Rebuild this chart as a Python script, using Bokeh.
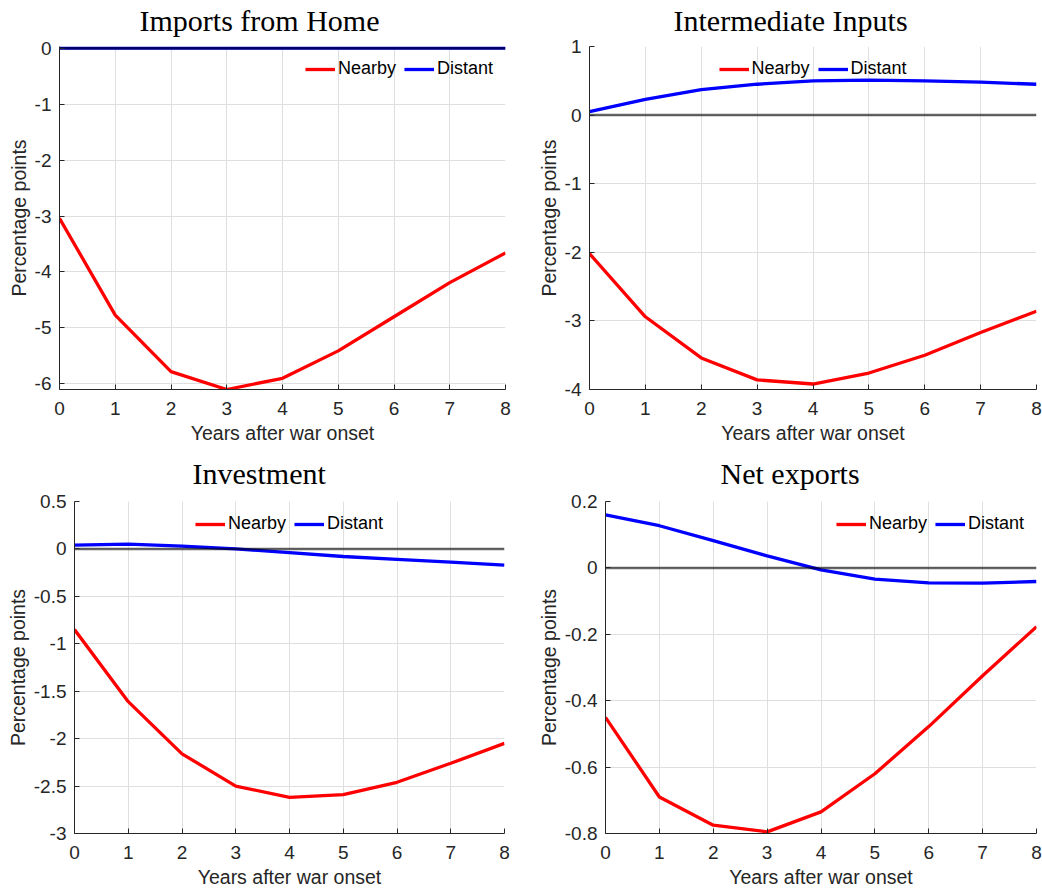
from bokeh.plotting import figure
from bokeh.layouts import column, row
from bokeh.models import Range1d, FixedTicker, CustomJSTickFormatter, Title
from bokeh.embed import file_html
from bokeh.resources import INLINE

# ---------------- data ----------------
years = [0, 1, 2, 3, 4, 5, 6, 7, 8]
x_ticks = [0, 1, 2, 3, 4, 5, 6, 7, 8]

titles = ["Imports from Home", "Intermediate Inputs", "Investment", "Net exports"]
series_names = ["Nearby", "Distant"]

imports_nearby = [-3.04, -4.77, -5.78, -6.10, -5.90, -5.41, -4.80, -4.19, -3.66]
imports_distant = [0.0, 0.0, 0.0, 0.0, 0.0, 0.0, 0.0, 0.0, 0.0]

inter_nearby = [-2.02, -2.94, -3.54, -3.86, -3.92, -3.76, -3.50, -3.17, -2.86]
inter_distant = [0.05, 0.23, 0.37, 0.45, 0.50, 0.51, 0.50, 0.48, 0.45]

inv_nearby = [-0.85, -1.61, -2.16, -2.50, -2.62, -2.59, -2.46, -2.26, -2.05]
inv_distant = [0.04, 0.05, 0.03, 0.00, -0.04, -0.08, -0.11, -0.14, -0.17]

nx_nearby = [-0.45, -0.69, -0.775, -0.795, -0.735, -0.62, -0.478, -0.325, -0.177]
nx_distant = [0.16, 0.127, 0.082, 0.036, -0.006, -0.034, -0.045, -0.046, -0.041]

imports_yticks = [-6, -5, -4, -3, -2, -1, 0]
inter_yticks = [-4, -3, -2, -1, 0, 1]
inv_yticks = [-3, -2.5, -2, -1.5, -1, -0.5, 0, 0.5]
nx_yticks = [-0.8, -0.6, -0.4, -0.2, 0, 0.2]

# ---------------- styling ----------------
SANS = "Liberation Sans"
SERIF = "Liberation Serif"
AX = "#262626"
GRID = "#dfdfdf"


def make_panel(title, nearby, distant, yrange, yticks, legend_loc,
               width, height, bl, br, bt, bb, title_offset, gap):
    p = figure(width=width, height=height, output_backend="svg",
               toolbar_location=None,
               x_range=Range1d(0, 8), y_range=Range1d(*yrange),
               min_border_left=bl, min_border_right=br,
               min_border_top=bt, min_border_bottom=bb)
    p.title = None
    # small spacer between the frame and the title
    p.add_layout(Title(text=" ", text_font_size="2px", standoff=gap), "above")
    p.add_layout(Title(text=title, text_font=SERIF, text_font_size="30px",
                       text_font_style="normal", text_color="black",
                       align="left", offset=title_offset, standoff=0), "above")
    p.outline_line_color = None
    p.background_fill_color = "white"
    p.border_fill_color = "white"

    p.line(years, nearby, line_color="#ff0000", line_width=3.3,
           legend_label=series_names[0])
    p.line(years, distant, line_color="#0000ff", line_width=3.3,
           legend_label=series_names[1])
    p.line([0, 8], [0, 0], line_color="black", line_alpha=0.6, line_width=2.5)

    for ax in (p.xaxis[0], p.yaxis[0]):
        ax.axis_line_color = AX
        ax.axis_line_width = 1
        ax.major_tick_line_color = AX
        ax.major_tick_in = 5
        ax.major_tick_out = 0
        ax.minor_tick_line_color = None
        ax.major_label_text_font = SANS
        ax.major_label_text_font_size = "19px"
        ax.major_label_text_color = AX
        ax.axis_label_text_font = SANS
        ax.axis_label_text_font_size = "19.5px"
        ax.axis_label_text_font_style = "normal"
        ax.axis_label_text_color = AX
        ax.formatter = CustomJSTickFormatter(
            code="return String(Math.round(tick*100)/100);")

    p.xaxis.ticker = FixedTicker(ticks=x_ticks)
    p.yaxis.ticker = FixedTicker(ticks=yticks)
    p.xaxis.axis_label = "Years after war onset"
    p.yaxis.axis_label = "Percentage points"
    p.xaxis.major_label_standoff = 12
    p.xaxis.axis_label_standoff = 4
    p.yaxis.major_label_standoff = 8
    p.yaxis.axis_label_standoff = 2

    p.xgrid.grid_line_color = GRID
    p.ygrid.grid_line_color = GRID
    p.xgrid.grid_line_width = 1
    p.ygrid.grid_line_width = 1

    lg = p.legend[0]
    lg.location = legend_loc
    lg.orientation = "horizontal"
    lg.background_fill_alpha = 0
    lg.border_line_alpha = 0
    lg.label_text_font = SANS
    lg.label_text_font_size = "18px"
    lg.label_text_color = "black"
    lg.glyph_width = 30
    lg.label_standoff = 3
    lg.spacing = 8
    lg.padding = 10
    lg.margin = 2
    return p


p1 = make_panel(titles[0], imports_nearby, imports_distant, (-6.1, 0.03),
                imports_yticks, "top_right", 521, 448, 59, 16, 46, 59, 80, 6)
p2 = make_panel(titles[1], inter_nearby, inter_distant, (-4, 1),
                inter_yticks, "top_center", 521, 448, 68, 6, 46, 59, 84, 6)
p3 = make_panel(titles[2], inv_nearby, inv_distant, (-3, 0.5),
                inv_yticks, "top_center", 521, 442, 74, 17, 53, 57, 118, 8)
p4 = make_panel(titles[3], nx_nearby, nx_distant, (-0.8, 0.2),
                nx_yticks, "top_right", 521, 442, 84, 6, 53, 57, 115, 8)

layout = column(row(p1, p2), row(p3, p4))
open("out.html", "w").write(file_html(layout, INLINE))
